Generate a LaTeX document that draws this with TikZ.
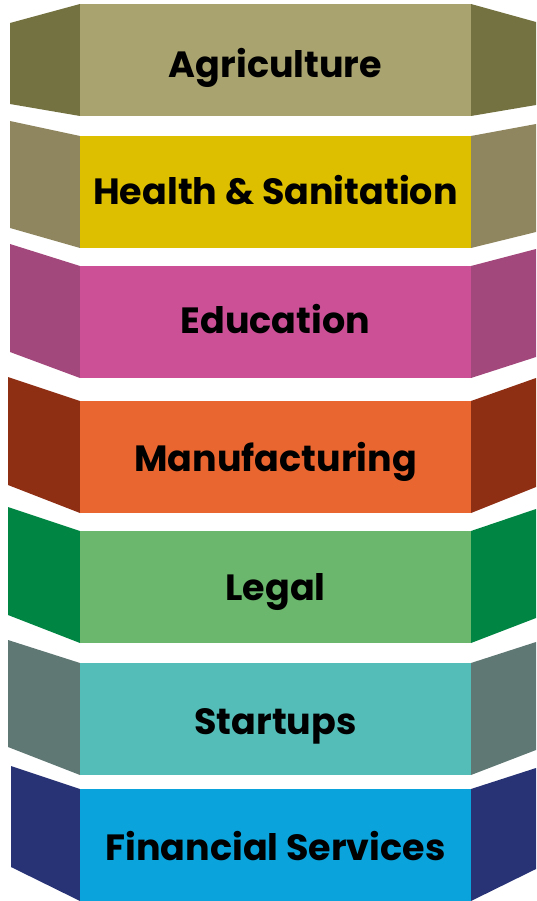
\documentclass[tikz,border=0pt]{standalone}
\usepackage{fontspec}
\setmainfont{Poppins}[UprightFont=* Bold]
\definecolor{agf}{HTML}{A9A36F}\definecolor{ags}{HTML}{737240}
\definecolor{hef}{HTML}{DDBF00}\definecolor{hes}{HTML}{8F8660}
\definecolor{edf}{HTML}{CB5096}\definecolor{eds}{HTML}{A3487D}
\definecolor{maf}{HTML}{E96631}\definecolor{mas}{HTML}{8E2E13}
\definecolor{lef}{HTML}{6BB76D}\definecolor{les}{HTML}{008542}
\definecolor{stf}{HTML}{55BDB8}\definecolor{sts}{HTML}{607874}
\definecolor{fif}{HTML}{0BA3DC}\definecolor{fis}{HTML}{283375}
\tikzset{front/.style={fill=#1, minimum width=391pt, minimum height=112pt, inner sep=0pt},
  tiertext/.style={anchor=base, inner sep=0pt, font=\fontsize{36.5}{40}\selectfont, text=black}}
% #1 front top, #2 front colour, #3 side colour, #4 left x, #5 left top, #6 left bottom, #7 right top, #8 right bottom
\newcommand\tierblock[8]{%
  \fill[#3] (#4,#5) -- (80,#1) -- (80,#1+112) -- (#4,#6) -- cycle;
  \fill[#3] (536,#7) -- (471,#1) -- (471,#1+112) -- (536,#8) -- cycle;
}
\begin{document}
\begin{tikzpicture}[x=1pt,y=-1pt]
\useasboundingbox (0,0) rectangle (536,901);
\tierblock{4}{agf}{ags}{10}{23}{104}{22}{105}
\node[front=agf] (ag) at (275.5,60) {};
\node[tiertext] (agt) at (275.5,77.5) {Agriculture};
\tierblock{136}{hef}{hes}{10}{121}{228}{124}{232}
\node[front=hef] (he) at (275.5,192) {};
\node[tiertext] (het) at (275.5,204.5) {Health \& Sanitation};
\tierblock{266}{edf}{eds}{10}{244}{352}{249}{357}
\node[front=edf] (ed) at (275.5,322) {};
\node[tiertext] (edt) at (275.5,333.5) {Education};
\tierblock{401}{maf}{mas}{8}{377}{485}{378}{487}
\node[front=maf] (ma) at (275.5,457) {};
\node[tiertext] (mat) at (275.5,471.5) {Manufacturing};
\tierblock{531}{lef}{les}{8}{507}{615}{509}{618}
\node[front=lef] (le) at (275.5,587) {};
\node[tiertext] (let) at (275.5,600.5) {Legal};
\tierblock{663}{stf}{sts}{8}{640}{747}{642}{750}
\node[front=stf] (st) at (275.5,719) {};
\node[tiertext] (stt) at (275.5,734.5) {Startups};
\tierblock{789}{fif}{fis}{11}{766}{867}{768}{869}
\node[front=fif] (fi) at (275.5,845) {};
\node[tiertext] (fit) at (275.5,860.5) {Financial Services};
\end{tikzpicture}
\end{document}
